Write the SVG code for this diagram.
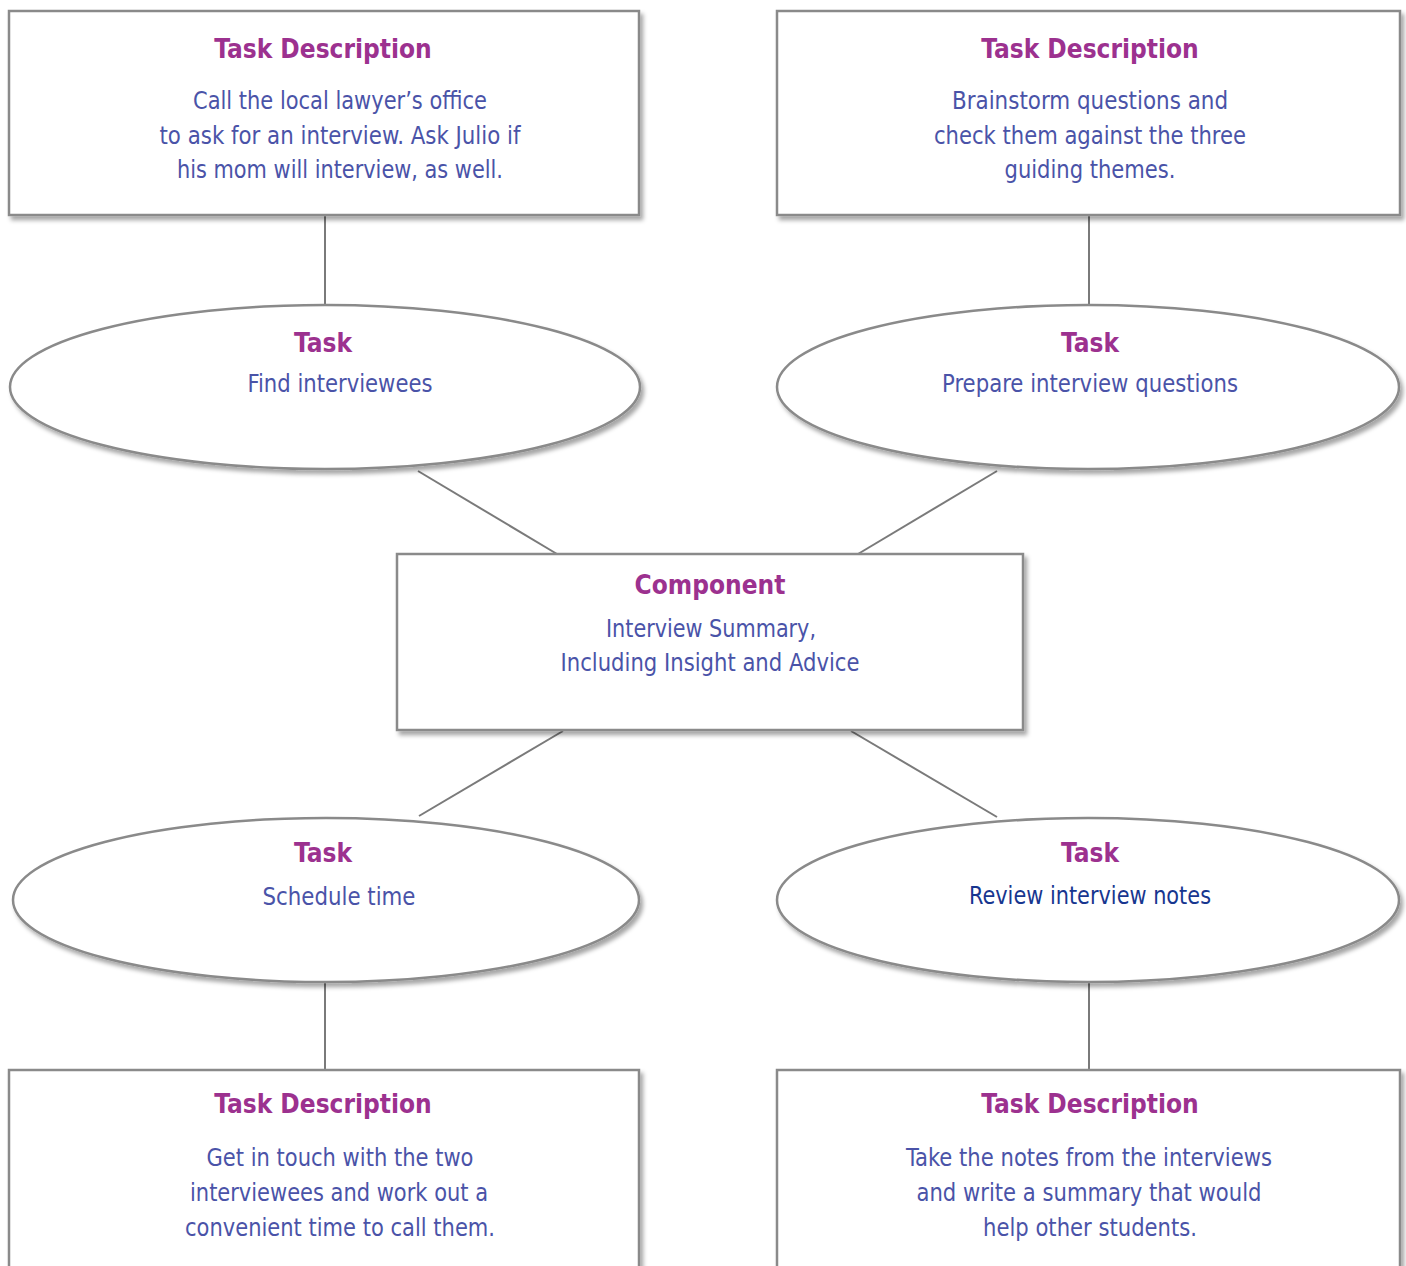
<svg xmlns="http://www.w3.org/2000/svg" width="1406" height="1266" viewBox="0 0 1406 1266">
<defs>
<filter id="sh" x="-5%" y="-5%" width="115%" height="120%">
<feDropShadow dx="3" dy="4" stdDeviation="2" flood-color="#000" flood-opacity="0.35"/>
</filter>
</defs>
<style>
.box{fill:#fff;stroke:#8a8a8a;stroke-width:2.5}
.t{font-family:"Liberation Sans Narrow","DejaVu Sans Condensed","Liberation Sans",sans-serif;font-stretch:condensed;font-weight:bold;font-size:26px;fill:#9c318f;text-anchor:middle}
.b{font-family:"Liberation Sans Narrow","DejaVu Sans Condensed","Liberation Sans",sans-serif;font-stretch:condensed;font-size:25px;fill:#4a53a8;text-anchor:middle}
.d{fill:#17368f}
.c line{stroke:#7a7a7a;stroke-width:2}
</style>
<rect width="1406" height="1266" fill="#fff"/>
<g class="c" id="connectors">
<line x1="325" y1="215" x2="325" y2="305"/>
<line x1="1089" y1="215" x2="1089" y2="305"/>
<line x1="418" y1="471" x2="557" y2="554"/>
<line x1="997" y1="471" x2="858" y2="554"/>
<line x1="563" y1="731" x2="419" y2="816"/>
<line x1="851" y1="731" x2="997" y2="817"/>
<line x1="325" y1="982" x2="325" y2="1070"/>
<line x1="1089" y1="982" x2="1089" y2="1070"/>
</g>
<g id="desc-tl">
<rect class="box" filter="url(#sh)" x="9" y="11" width="630" height="204"/>
<text class="t" x="323" y="58">Task Description</text>
<text class="b" x="340" y="109" textLength="294" lengthAdjust="spacingAndGlyphs">Call the local lawyer’s office</text>
<text class="b" x="340" y="144" textLength="361" lengthAdjust="spacingAndGlyphs">to ask for an interview. Ask Julio if</text>
<text class="b" x="340" y="178" textLength="326" lengthAdjust="spacingAndGlyphs">his mom will interview, as well.</text>
</g>
<g id="desc-tr">
<rect class="box" filter="url(#sh)" x="777" y="11" width="623" height="204"/>
<text class="t" x="1090" y="58">Task Description</text>
<text class="b" x="1090" y="109" textLength="276" lengthAdjust="spacingAndGlyphs">Brainstorm questions and</text>
<text class="b" x="1090" y="144" textLength="312" lengthAdjust="spacingAndGlyphs">check them against the three</text>
<text class="b" x="1090" y="178" textLength="171" lengthAdjust="spacingAndGlyphs">guiding themes.</text>
</g>
<g id="task-tl">
<ellipse class="box" filter="url(#sh)" cx="325" cy="387" rx="315" ry="82"/>
<text class="t" x="323" y="352">Task</text>
<text class="b" x="340" y="392" textLength="185" lengthAdjust="spacingAndGlyphs">Find interviewees</text>
</g>
<g id="task-tr">
<ellipse class="box" filter="url(#sh)" cx="1088" cy="387" rx="311" ry="82"/>
<text class="t" x="1090" y="352">Task</text>
<text class="b" x="1090" y="392" textLength="296" lengthAdjust="spacingAndGlyphs">Prepare interview questions</text>
</g>
<g id="component">
<rect class="box" filter="url(#sh)" x="397" y="554" width="626" height="176"/>
<text class="t" x="710" y="594">Component</text>
<text class="b" x="711" y="637" textLength="210" lengthAdjust="spacingAndGlyphs">Interview Summary,</text>
<text class="b" x="710" y="671" textLength="299" lengthAdjust="spacingAndGlyphs">Including Insight and Advice</text>
</g>
<g id="task-bl">
<ellipse class="box" filter="url(#sh)" cx="326" cy="900" rx="313" ry="82"/>
<text class="t" x="323" y="862">Task</text>
<text class="b" x="339" y="905" textLength="153" lengthAdjust="spacingAndGlyphs">Schedule time</text>
</g>
<g id="task-br">
<ellipse class="box" filter="url(#sh)" cx="1088" cy="900" rx="311" ry="82"/>
<text class="t" x="1090" y="862">Task</text>
<text class="b d" x="1090" y="904" textLength="242" lengthAdjust="spacingAndGlyphs">Review interview notes</text>
</g>
<g id="desc-bl">
<rect class="box" filter="url(#sh)" x="9" y="1070" width="630" height="220"/>
<text class="t" x="323" y="1113">Task Description</text>
<text class="b" x="340" y="1166" textLength="267" lengthAdjust="spacingAndGlyphs">Get in touch with the two</text>
<text class="b" x="339" y="1201" textLength="298" lengthAdjust="spacingAndGlyphs">interviewees and work out a</text>
<text class="b" x="340" y="1236" textLength="310" lengthAdjust="spacingAndGlyphs">convenient time to call them.</text>
</g>
<g id="desc-br">
<rect class="box" filter="url(#sh)" x="777" y="1070" width="623" height="220"/>
<text class="t" x="1090" y="1113">Task Description</text>
<text class="b" x="1089" y="1166" textLength="366" lengthAdjust="spacingAndGlyphs">Take the notes from the interviews</text>
<text class="b" x="1089" y="1201" textLength="345" lengthAdjust="spacingAndGlyphs">and write a summary that would</text>
<text class="b" x="1090" y="1236" textLength="214" lengthAdjust="spacingAndGlyphs">help other students.</text>
</g>
</svg>
